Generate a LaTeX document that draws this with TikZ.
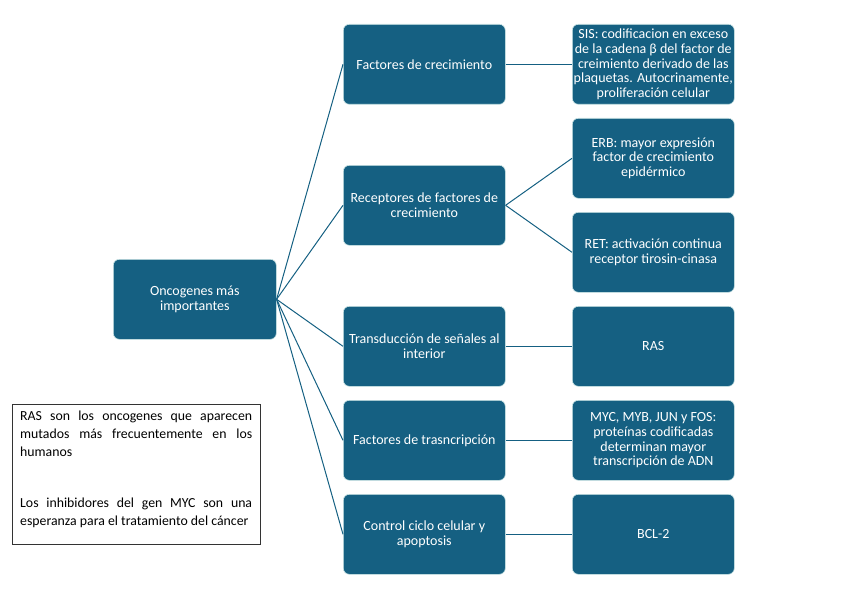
\documentclass[tikz,border=0pt]{standalone}
\usepackage{fontspec}
\setmainfont{Carlito}
\begin{document}
\begin{tikzpicture}[x=1pt,y=-1pt,
  blk/.style={draw=white!80!teal, line width=0.6pt, fill=teal1, rounded corners=6pt,
    minimum width=162pt, minimum height=80pt, inner sep=1pt, align=center,
    text=white, font=\fontsize{14}{14.6}\selectfont, anchor=north west},
  link/.style={draw=teal1, line width=1pt}]
\definecolor{teal1}{HTML}{156082}
\useasboundingbox (0,0) rectangle (848,599);
\node[blk, minimum width=163pt] (root) at (113,259) {Oncogenes más\\importantes};
\node[blk] (a1) at (343,24) {Factores de crecimiento};
\node[blk] (a2) at (343,165) {Receptores de factores de\\crecimiento};
\node[blk] (a3) at (343,306) {Transducción de señales al\\interior};
\node[blk] (a4) at (343,400) {Factores de trasncripción};
\node[blk] (a5) at (343,494) {Control ciclo celular y\\apoptosis};
\node[blk] (b1) at (572,24) {SIS: codificacion en exceso\\de la cadena β del factor de\\creimiento derivado de las\\plaquetas. Autocrinamente,\\proliferación celular};
\node[blk] (b2) at (572,118) {ERB: mayor expresión\\factor de crecimiento\\epidérmico};
\node[blk] (b3) at (572,212) {RET: activación continua\\receptor tirosin-cinasa};
\node[blk] (b4) at (572,306) {RAS};
\node[blk] (b5) at (572,400) {MYC, MYB, JUN y FOS:\\proteínas codificadas\\determinan mayor\\transcripción de ADN};
\node[blk] (b6) at (572,494) {BCL-2};
\foreach \n in {a1,a2,a3,a4,a5} \draw[link] (root.east) -- (\n.west);
\draw[link] (a1.east) -- (b1.west);
\draw[link] (a2.east) -- (b2.west);
\draw[link] (a2.east) -- (b3.west);
\draw[link] (a3.east) -- (b4.west);
\draw[link] (a4.east) -- (b5.west);
\draw[link] (a5.east) -- (b6.west);
\node[draw=black!80, line width=0.8pt, minimum width=248pt, minimum height=140pt,
  anchor=north west, inner sep=0pt] (note) at (12,404) {};
\node[anchor=north west, inner sep=0pt, align=left, text=black,
  font=\fontsize{13.8}{18}\selectfont] (notetext) at (20,411) {%
  \makebox[232pt][s]{RAS son los oncogenes que aparecen}\\
  \makebox[232pt][s]{mutados más frecuentemente en los}\\
  humanos\\[33pt]
  \makebox[232pt][s]{Los inhibidores del gen MYC son una}\\
  esperanza para el tratamiento del cáncer};
\end{tikzpicture}
\end{document}
